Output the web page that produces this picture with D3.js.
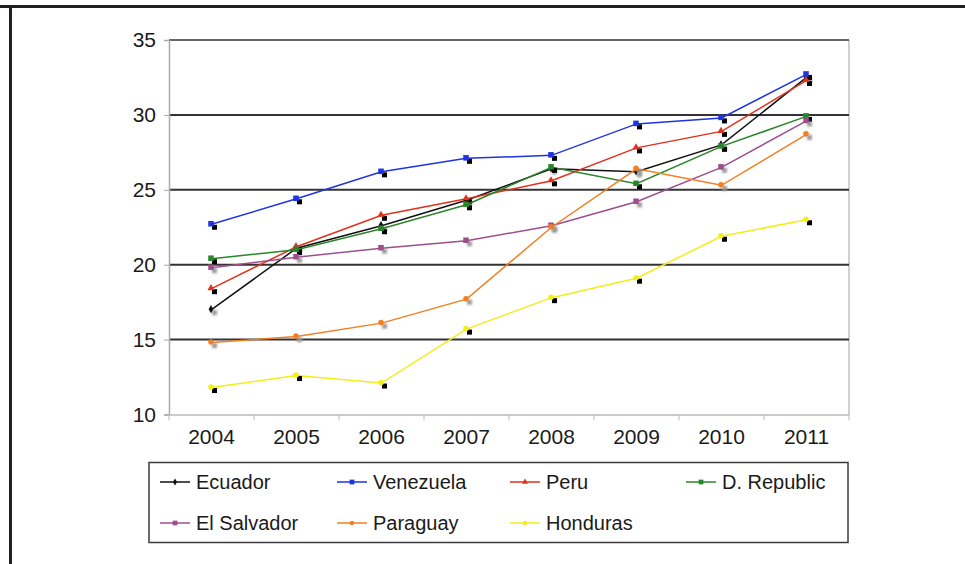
<!DOCTYPE html>
<html>
<head>
<meta charset="utf-8">
<script src="https://cdn.jsdelivr.net/npm/d3@7"></script>
<style>
  html, body { margin: 0; padding: 0; background: #fff; }
  svg { display: block; font-family: "Liberation Sans", Arial, sans-serif; }
</style>
</head>
<body>
<svg id="chart" width="965" height="564"></svg>
<script>
// Years on the x axis
const years = ["2004", "2005", "2006", "2007", "2008", "2009", "2010", "2011"];
const yTicks = [10, 15, 20, 25, 30, 35];

// Series values, one array per country
const ecuador    = [17.0, 21.1, 22.6, 24.3, 26.4, 26.2, 28.0, 32.5];
const venezuela  = [22.7, 24.4, 26.2, 27.1, 27.3, 29.4, 29.8, 32.7];
const peru       = [18.4, 21.2, 23.3, 24.4, 25.6, 27.8, 28.9, 32.3];
const dRepublic  = [20.4, 21.0, 22.4, 24.0, 26.5, 25.4, 27.9, 29.9];
const elSalvador = [19.8, 20.5, 21.1, 21.6, 22.6, 24.2, 26.5, 29.6];
const paraguay   = [14.8, 15.2, 16.1, 17.7, 22.5, 26.4, 25.3, 28.7];
const honduras   = [11.8, 12.6, 12.1, 15.7, 17.8, 19.1, 21.9, 23.0];

const seriesNames = ["Ecuador", "Venezuela", "Peru", "D. Republic", "El Salvador", "Paraguay", "Honduras"];
const seriesValues = [ecuador, venezuela, peru, dRepublic, elSalvador, paraguay, honduras];
const seriesColors = ["#111111", "#1f34e0", "#e0321e", "#2a862a", "#9c4f8c", "#f08022", "#f2ee1a"];
const seriesShapes = ["diamond", "square", "triangle", "square", "square", "circle", "circle"];
const shadowColors = ["#9a9a9a", "#000", "#000", "#000", "#9a9a9a", "#9a9a9a", "#000"];

const svg = d3.select("#chart");

// outer frame (top and left rule)
svg.append("rect").attr("x", 0).attr("y", 5).attr("width", 965).attr("height", 3).attr("fill", "#231f20");
svg.append("rect").attr("x", 9).attr("y", 5).attr("width", 3).attr("height", 559).attr("fill", "#231f20");

const plot = { left: 169, right: 849, top: 40, bottom: 414.5 };

const x = d3.scaleBand().domain(years).range([plot.left, plot.right]).padding(0);
const y = d3.scaleLinear().domain([10, 35]).range([plot.bottom, plot.top]);
const cx = d => x(d) + x.bandwidth() / 2;

const defs = svg.append("defs");
defs.append("filter").attr("id", "soft")
  .attr("x", "-100%").attr("y", "-100%").attr("width", "300%").attr("height", "300%")
  .append("feGaussianBlur").attr("stdDeviation", 1.2);

// right border of the plot area
svg.append("line")
  .attr("x1", plot.right).attr("x2", plot.right)
  .attr("y1", plot.top).attr("y2", plot.bottom)
  .attr("stroke", "#d0d0d0").attr("stroke-width", 2);

// horizontal gridlines
svg.append("g").selectAll("line")
  .data(yTicks.filter(t => t > 10))
  .join("line")
  .attr("x1", plot.left).attr("x2", plot.right)
  .attr("y1", d => y(d)).attr("y2", d => y(d))
  .attr("stroke", d => d === 35 ? "#666" : "#333")
  .attr("stroke-width", 2);

// y axis
const yAxis = svg.append("g")
  .attr("transform", `translate(${plot.left},0)`)
  .call(d3.axisLeft(y).tickValues(yTicks).tickSize(5).tickPadding(8));
yAxis.select(".domain").attr("stroke", "#aaa").attr("stroke-width", 1.5);
yAxis.selectAll(".tick line").attr("stroke", "#aaa");
yAxis.selectAll("text").attr("font-size", 21).attr("fill", "#1a1a1a")
  .attr("font-family", "'Liberation Sans', Arial, sans-serif");

// x axis
const xAxis = svg.append("g")
  .attr("transform", `translate(0,${plot.bottom})`)
  .call(d3.axisBottom(x).tickSize(0).tickPadding(15));
xAxis.select(".domain").attr("stroke", "#bbb").attr("stroke-width", 1.5);
xAxis.selectAll("text").attr("font-size", 21).attr("fill", "#1a1a1a")
  .attr("font-family", "'Liberation Sans', Arial, sans-serif");
// tick marks on band boundaries
xAxis.append("g").selectAll("line")
  .data(years.concat(["end"]))
  .join("line")
  .attr("x1", (d, i) => plot.left + i * x.bandwidth())
  .attr("x2", (d, i) => plot.left + i * x.bandwidth())
  .attr("y1", 0).attr("y2", 6)
  .attr("stroke", "#bbb");

function markerPath(shape, s) {
  if (shape === "diamond") return d3.symbol(d3.symbolDiamond, s * 9)();
  if (shape === "triangle") return d3.symbol(d3.symbolTriangle, s * 10)();
  if (shape === "circle") return d3.symbol(d3.symbolCircle, s * 11)();
  return d3.symbol(d3.symbolSquare, s * 14)();
}

const line = d3.line().x((d, i) => cx(years[i])).y(d => y(d));

seriesValues.forEach((vals, k) => {
  const g = svg.append("g");
  g.append("path")
    .attr("d", line(vals))
    .attr("fill", "none")
    .attr("stroke", seriesColors[k])
    .attr("stroke-width", 1.5);
  // drop shadows under markers
  g.selectAll("rect.shadow")
    .data(vals)
    .join("rect")
    .attr("class", "shadow")
    .attr("x", (d, i) => cx(years[i]) + 0.5)
    .attr("y", d => y(d) + 0.5)
    .attr("width", 5).attr("height", 5)
    .attr("fill", shadowColors[k])
    .attr("filter", shadowColors[k] === "#000" ? null : "url(#soft)");
  g.selectAll("path.mk")
    .data(vals)
    .join("path")
    .attr("class", "mk")
    .attr("d", markerPath(seriesShapes[k], 2.2))
    .attr("transform", (d, i) => `translate(${cx(years[i]) - 0.5},${y(d) - 0.5})`)
    .attr("fill", seriesColors[k]);
});

// legend
const legend = svg.append("g");
legend.append("rect")
  .attr("x", 149).attr("y", 462.5).attr("width", 699).attr("height", 80)
  .attr("fill", "#fff").attr("stroke", "#3a3a3a").attr("stroke-width", 1.5);

const colX = [160, 337, 510, 686];
const rowY = [482, 523];
seriesNames.forEach((name, k) => {
  const col = k < 4 ? k : k - 4;
  const row = k < 4 ? 0 : 1;
  const lx = colX[col], ly = rowY[row];
  const item = legend.append("g").attr("transform", `translate(${lx},${ly})`);
  item.append("line").attr("x1", 0).attr("x2", 30).attr("y1", 0).attr("y2", 0)
    .attr("stroke", seriesColors[k]).attr("stroke-width", 1.5);
  item.append("path").attr("d", markerPath(seriesShapes[k], 1.6))
    .attr("transform", "translate(15,0)").attr("fill", seriesColors[k]);
  item.append("text").attr("x", 36).attr("y", 0).attr("dy", "0.35em")
    .attr("font-size", 20).attr("fill", "#1a1a1a").text(name);
});
</script>
</body>
</html>
